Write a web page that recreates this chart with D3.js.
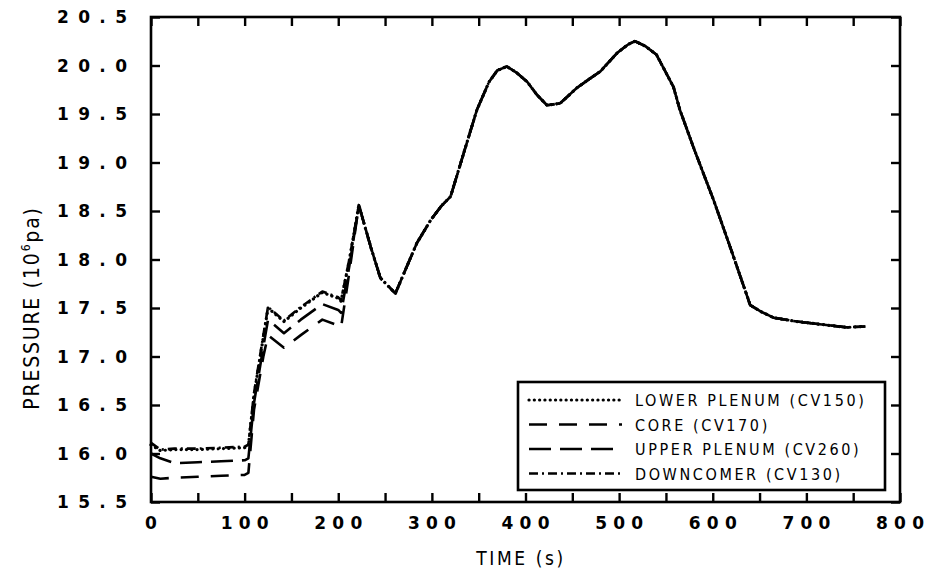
<!DOCTYPE html>
<html>
<head>
<meta charset="utf-8">
<script src="https://cdn.jsdelivr.net/npm/d3@7"></script>
<style>
  html, body { margin: 0; padding: 0; background: #fff; }
  svg { display: block; }
</style>
</head>
<body>
<svg id="chart" width="934" height="575"></svg>
<script>
// Early transient (0–222 s): the four control volumes are resolved separately
const earlyTime = [0, 10, 25, 50, 75, 100, 104, 110, 120, 125, 142, 160, 183, 200, 203, 212, 222];
const lowerPlenumEarly = [16.09, 16.03, 16.04, 16.04, 16.05, 16.06, 16.08, 16.60, 17.20, 17.50, 17.36, 17.50, 17.66, 17.60, 17.57, 18.00, 18.56];
const coreEarly        = [15.76, 15.74, 15.75, 15.76, 15.77, 15.78, 15.80, 16.45, 17.00, 17.22, 17.09, 17.22, 17.38, 17.32, 17.30, 17.88, 18.56];
const upperPlenumEarly = [16.00, 15.95, 15.90, 15.91, 15.92, 15.93, 15.95, 16.52, 17.10, 17.38, 17.24, 17.38, 17.54, 17.48, 17.45, 17.94, 18.56];
const downcomerEarly   = [16.11, 16.04, 16.05, 16.05, 16.06, 16.07, 16.09, 16.62, 17.22, 17.51, 17.37, 17.51, 17.67, 17.61, 17.58, 18.01, 18.56];

// After ~222 s the pressures are equalised: one shared history
const lateTime = [235, 245, 261, 272, 284, 299, 310, 320, 336, 348, 361, 370, 380, 390, 402, 412, 423, 437, 455, 468, 480, 498, 510, 517, 528, 540, 558, 565, 580, 601, 620, 640, 652, 665, 690, 708, 743, 763];
const latePressure = [18.12, 17.81, 17.65, 17.90, 18.17, 18.41, 18.55, 18.65, 19.16, 19.54, 19.83, 19.95, 19.99, 19.93, 19.83, 19.70, 19.59, 19.61, 19.77, 19.86, 19.94, 20.13, 20.22, 20.25, 20.20, 20.11, 19.78, 19.54, 19.14, 18.61, 18.09, 17.53, 17.46, 17.40, 17.36, 17.34, 17.30, 17.31];

const seriesNames = ["LOWER PLENUM (CV150)", "CORE (CV170)", "UPPER PLENUM (CV260)", "DOWNCOMER (CV130)"];
const xTickLabels = [0, 100, 200, 300, 400, 500, 600, 700, 800];
const yTickLabels = ["15.5", "16.0", "16.5", "17.0", "17.5", "18.0", "18.5", "19.0", "19.5", "20.0", "20.5"];

const earlyValues = [lowerPlenumEarly, coreEarly, upperPlenumEarly, downcomerEarly];
const seriesStyle = [
  { dash: "0.1 5.2", width: 3.2, cap: "round" },   // lower plenum: dotted
  { dash: "18 12",   width: 2.6, cap: "butt"  },   // core: long dash
  { dash: "22 9",    width: 2.6, cap: "butt"  },   // upper plenum: dash
  { dash: "9 4 2 4", width: 2.6, cap: "butt"  }    // downcomer: dash-dot
];

const series = seriesNames.map((name, i) => ({
  name,
  points: earlyTime.map((t, j) => [t, earlyValues[i][j]])
    .concat(lateTime.map((t, j) => [t, latePressure[j]])),
  style: seriesStyle[i]
}));

const svg = d3.select("#chart");
const plotLeft = 151, plotRight = 900, plotTop = 17, plotBottom = 502;

const x = d3.scaleLinear().domain([0, 800]).range([plotLeft, plotRight]);
const y = d3.scaleLinear().domain([15.5, 20.5]).range([plotBottom, plotTop]);

const tickFont = "'DejaVu Sans', sans-serif";
const labelFont = "'DejaVu Sans Condensed', 'DejaVu Sans', sans-serif";

// Inward ticks on all four sides
const tLen = 9;
const xTicks = d3.range(0, 801, 50);
const yTicks = d3.range(15.5, 20.51, 0.5);

svg.append("g").attr("transform", `translate(0,${plotBottom})`)
  .call(d3.axisBottom(x).tickValues(xTicks).tickSize(-tLen).tickFormat(""))
  .call(g => g.select(".domain").remove());
svg.append("g").attr("transform", `translate(0,${plotTop})`)
  .call(d3.axisTop(x).tickValues(xTicks).tickSize(-tLen).tickFormat(""))
  .call(g => g.select(".domain").remove());
svg.append("g").attr("transform", `translate(${plotLeft},0)`)
  .call(d3.axisLeft(y).tickValues(yTicks).tickSize(-tLen).tickFormat(""))
  .call(g => g.select(".domain").remove());
svg.append("g").attr("transform", `translate(${plotRight},0)`)
  .call(d3.axisRight(y).tickValues(yTicks).tickSize(-tLen).tickFormat(""))
  .call(g => g.select(".domain").remove());
svg.selectAll(".tick line").attr("stroke", "#000").attr("stroke-width", 2.4);

// Plot frame
svg.append("rect")
  .attr("x", plotLeft).attr("y", plotTop)
  .attr("width", plotRight - plotLeft).attr("height", plotBottom - plotTop)
  .attr("fill", "none").attr("stroke", "#000").attr("stroke-width", 2.6);

// Tick labels
svg.append("g").selectAll("text").data(xTickLabels).join("text")
  .attr("x", d => x(d)).attr("y", 529)
  .attr("text-anchor", "middle")
  .attr("font-family", tickFont).attr("font-weight", "bold").attr("font-size", 17)
  .attr("textLength", d => String(d).length > 1 ? 48 : null)
  .attr("lengthAdjust", "spacing")
  .text(d => d);

svg.append("g").selectAll("text").data(yTickLabels).join("text")
  .attr("x", 127).attr("y", d => y(+d) + 6)
  .attr("text-anchor", "end")
  .attr("font-family", tickFont).attr("font-weight", "bold").attr("font-size", 17)
  .attr("textLength", 70).attr("lengthAdjust", "spacing")
  .text(d => d);

// Axis titles
svg.append("text")
  .attr("x", 521).attr("y", 565)
  .attr("text-anchor", "middle")
  .attr("font-family", labelFont).attr("font-size", 19)
  .attr("letter-spacing", 2.6)
  .text("TIME (s)");

const yTitle = svg.append("text")
  .attr("transform", "translate(39,308) rotate(-90)")
  .attr("text-anchor", "middle")
  .attr("font-family", labelFont).attr("font-size", 21)
  .attr("letter-spacing", 1.8);
yTitle.append("tspan").text("PRESSURE (10");
yTitle.append("tspan").attr("font-size", 12).attr("dy", -9).text("6");
yTitle.append("tspan").attr("dy", 9).text("pa)");

// Curves
const line = d3.line().x(d => x(d[0])).y(d => y(d[1]));
const drawOrder = [1, 2, 3, 0];
svg.append("g").selectAll("path").data(drawOrder.map(i => series[i])).join("path")
  .attr("d", d => line(d.points))
  .attr("fill", "none").attr("stroke", "#000")
  .attr("stroke-width", d => d.style.width)
  .attr("stroke-dasharray", d => d.style.dash)
  .attr("stroke-linecap", d => d.style.cap)
  .attr("stroke-linejoin", "round");

// Legend
const lg = svg.append("g");
lg.append("rect")
  .attr("x", 518).attr("y", 382).attr("width", 367).attr("height", 108)
  .attr("fill", "#fff").attr("stroke", "#000").attr("stroke-width", 2.6);
const rows = lg.selectAll("g.row").data(series).join("g")
  .attr("class", "row")
  .attr("transform", (d, i) => `translate(0,${400 + i * 24.5})`);
rows.append("line")
  .attr("x1", 529).attr("x2", 622).attr("y1", 0).attr("y2", 0)
  .attr("stroke", "#000")
  .attr("stroke-width", d => d.style.width)
  .attr("stroke-dasharray", d => d.style.dash)
  .attr("stroke-linecap", d => d.style.cap);
rows.append("text")
  .attr("x", 635).attr("y", 6)
  .attr("font-family", labelFont).attr("font-size", 16)
  .attr("letter-spacing", 2.6)
  .text(d => d.name);
</script>
</body>
</html>
